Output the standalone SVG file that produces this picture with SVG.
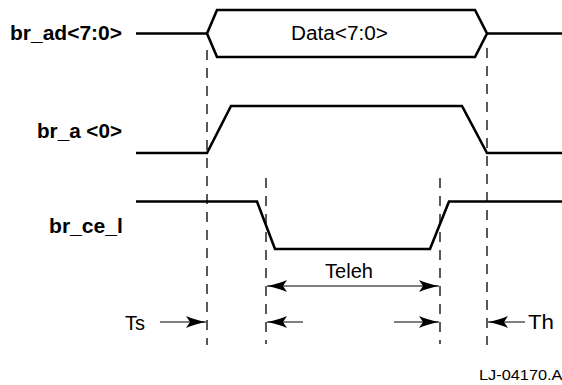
<svg xmlns="http://www.w3.org/2000/svg" width="562" height="385" viewBox="0 0 562 385">
<defs>
<style>
.sig{fill:none;stroke:#000;stroke-width:2.6;stroke-linejoin:miter}
.dash{fill:none;stroke:#000;stroke-width:1.3;stroke-dasharray:10 8}
.dim{fill:none;stroke:#555;stroke-width:1.5}
.lbl{font-family:"Liberation Sans",Arial,sans-serif;font-weight:bold;font-size:20px;fill:#000}
.txt{font-family:"Liberation Sans",Arial,sans-serif;font-size:20px;fill:#000}
.sm{font-family:"Liberation Sans",Arial,sans-serif;font-size:14px;fill:#000}
</style>
<marker id="ah" viewBox="0 0 20 12" refX="20" refY="6" markerWidth="20" markerHeight="12" markerUnits="userSpaceOnUse" orient="auto-start-reverse">
<path d="M0,0 Q8,3.5 20,6 Q8,8.5 0,12 L4,6 Z" fill="#000"/>
</marker>
</defs>
<rect width="562" height="385" fill="#fff"/>
<g id="br_ad">
<text class="lbl" x="10" y="40" textLength="112" lengthAdjust="spacingAndGlyphs">br_ad&lt;7:0&gt;</text>
<path class="sig" d="M136,33.5 H207 M487,33.5 H562"/>
<path class="sig" d="M207,33.5 L217,10 H475 L487,33.5 L475,57 H217 Z"/>
<text class="txt" x="291" y="40" textLength="97" lengthAdjust="spacingAndGlyphs">Data&lt;7:0&gt;</text>
</g>
<g id="br_a">
<text class="lbl" x="37" y="138" textLength="85" lengthAdjust="spacingAndGlyphs">br_a &lt;0&gt;</text>
<path class="sig" d="M136,153 H207 L231,106 H462 L487,153 H562"/>
</g>
<g id="br_ce_l">
<text class="lbl" x="49" y="233" textLength="74" lengthAdjust="spacingAndGlyphs">br_ce_l</text>
<path class="sig" d="M136,201.5 H257 L275,249 H430 L449,201.5 H562"/>
</g>
<g id="connectors">
<path class="dash" d="M207,50 V345"/>
<path class="dash" d="M487,48 V345"/>
<path class="dash" d="M266,178 V344"/>
<path class="dash" d="M440,178 V344"/>
<path class="dim" d="M267,286 H439" marker-start="url(#ah)" marker-end="url(#ah)"/>
<path class="dim" d="M160,322 H206" marker-end="url(#ah)"/>
<path class="dim" d="M303,322 H267" marker-end="url(#ah)"/>
<path class="dim" d="M394,322 H439" marker-end="url(#ah)"/>
<path class="dim" d="M525,322 H488" marker-end="url(#ah)"/>
</g>
<g id="labels">
<text class="txt" x="325" y="278" textLength="48" lengthAdjust="spacingAndGlyphs">Teleh</text>
<text class="txt" x="125" y="330" textLength="20" lengthAdjust="spacingAndGlyphs">Ts</text>
<text class="txt" x="528" y="329" textLength="26" lengthAdjust="spacingAndGlyphs">Th</text>
<text class="sm" x="479" y="380" textLength="88" lengthAdjust="spacingAndGlyphs">LJ-04170.AI</text>
</g>
</svg>
